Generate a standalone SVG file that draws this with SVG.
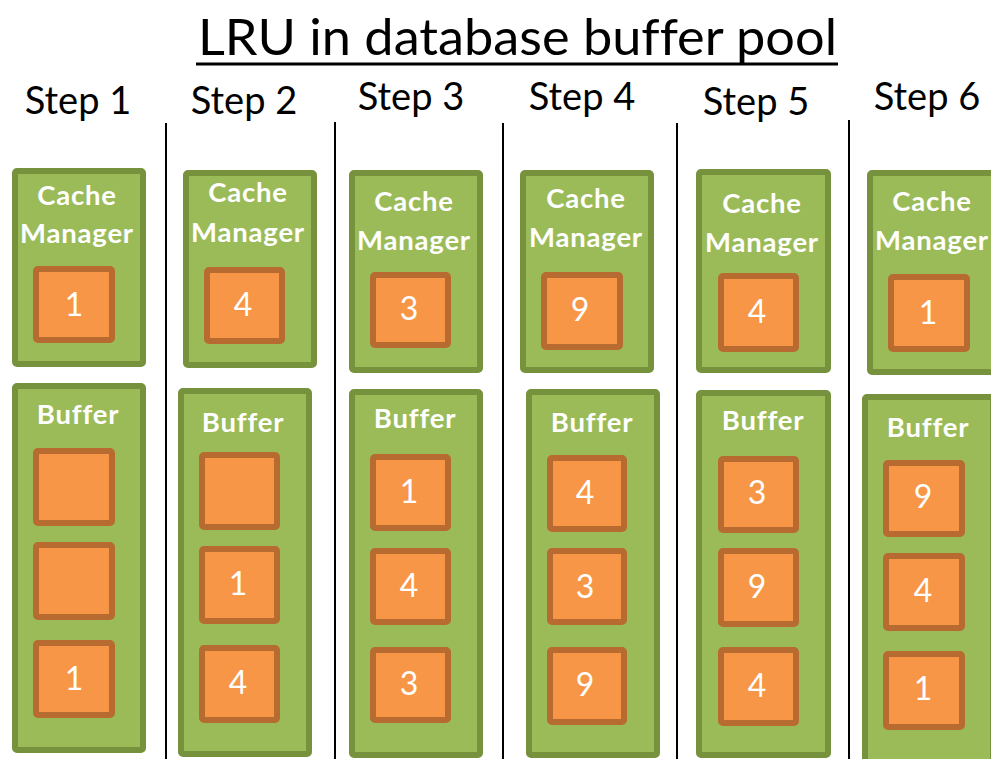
<svg xmlns="http://www.w3.org/2000/svg" width="991" height="759" viewBox="0 0 991 759">
<style>
text{font-variant-ligatures:none;font-feature-settings:"liga" 0}
.g{fill:#9BBB59;stroke:#76923C;stroke-width:6}
.o{fill:#F79646;stroke:#B86B30;stroke-width:6}
.lbl{font-family:Lato,"Liberation Sans",sans-serif;font-weight:bold;font-size:27.5px;letter-spacing:0.8px;fill:#fff;text-anchor:middle}
.num{font-family:Lato,"Liberation Sans",sans-serif;font-size:32px;fill:#fff;text-anchor:middle}
.step{font-family:Lato,"Liberation Sans",sans-serif;font-size:38px;fill:#000;text-anchor:middle}
.div{stroke:#000;stroke-width:2}
</style>
<rect width="991" height="759" fill="#fff"/>
<text x="198" y="55" textLength="639" lengthAdjust="spacingAndGlyphs" font-family="Lato,'Liberation Sans',sans-serif" font-size="50" fill="#000">LRU in database buffer pool</text>
<line x1="196" y1="64" x2="838" y2="64" stroke="#000" stroke-width="3"/>
<g id="dividers">
<line class="div" x1="166" y1="123" x2="166" y2="759"/>
<line class="div" x1="335" y1="122" x2="335" y2="759"/>
<line class="div" x1="503" y1="123" x2="503" y2="759"/>
<line class="div" x1="677" y1="123" x2="677" y2="759"/>
<line class="div" x1="849" y1="120" x2="849" y2="759"/>
</g>
<text class="step" x="78" y="114">Step 1</text>
<text class="step" x="244" y="114">Step 2</text>
<text class="step" x="411" y="110">Step 3</text>
<text class="step" x="582" y="110">Step 4</text>
<text class="step" x="756" y="115">Step 5</text>
<text class="step" x="927" y="110">Step 6</text>

<g id="step1">
<g id="cm1"><rect class="g" x="15" y="171" width="128" height="193" rx="2"/>
<text class="lbl" x="77" y="205">Cache</text><text class="lbl" x="77" y="243">Manager</text>
<rect class="o" x="36" y="269" width="76" height="71" rx="2"/><text class="num" x="74" y="316">1</text></g>
<g id="buf1"><rect class="g" x="15" y="386" width="128" height="364" rx="2"/>
<text class="lbl" x="78" y="424">Buffer</text>
<rect class="o" x="36" y="451" width="76" height="72" rx="2"/>
<rect class="o" x="36" y="545" width="76" height="72" rx="2"/>
<rect class="o" x="36" y="643" width="76" height="72" rx="2"/><text class="num" x="74" y="690">1</text></g>
</g>

<g id="step2">
<g id="cm2"><rect class="g" x="186" y="173" width="128" height="192" rx="2"/>
<text class="lbl" x="248" y="202">Cache</text><text class="lbl" x="248" y="242">Manager</text>
<rect class="o" x="207" y="270" width="75" height="71" rx="2"/><text class="num" x="243" y="316">4</text></g>
<g id="buf2"><rect class="g" x="181" y="391" width="128" height="363" rx="2"/>
<text class="lbl" x="243" y="432">Buffer</text>
<rect class="o" x="202" y="455" width="75" height="72" rx="2"/>
<rect class="o" x="202" y="549" width="75" height="72" rx="2"/><text class="num" x="238" y="595">1</text>
<rect class="o" x="202" y="648" width="75" height="72" rx="2"/><text class="num" x="238" y="694">4</text></g>
</g>

<g id="step3">
<g id="cm3"><rect class="g" x="352" y="173" width="128" height="197" rx="2"/>
<text class="lbl" x="414" y="211">Cache</text><text class="lbl" x="414" y="250">Manager</text>
<rect class="o" x="373" y="275" width="75" height="70" rx="2"/><text class="num" x="409" y="320">3</text></g>
<g id="buf3"><rect class="g" x="352" y="392" width="128" height="363" rx="2"/>
<text class="lbl" x="415" y="428">Buffer</text>
<rect class="o" x="373" y="457" width="75" height="71" rx="2"/><text class="num" x="409" y="503">1</text>
<rect class="o" x="373" y="551" width="75" height="71" rx="2"/><text class="num" x="409" y="597">4</text>
<rect class="o" x="373" y="650" width="75" height="70" rx="2"/><text class="num" x="409" y="695">3</text></g>
</g>

<g id="step4">
<g id="cm4"><rect class="g" x="523" y="173" width="128" height="197" rx="2"/>
<text class="lbl" x="586" y="208">Cache</text><text class="lbl" x="586" y="247">Manager</text>
<rect class="o" x="544" y="275" width="76" height="72" rx="2"/><text class="num" x="580" y="321">9</text></g>
<g id="buf4"><rect class="g" x="529" y="392" width="128" height="363" rx="2"/>
<text class="lbl" x="592" y="432">Buffer</text>
<rect class="o" x="550" y="458" width="74" height="71" rx="2"/><text class="num" x="585" y="504">4</text>
<rect class="o" x="550" y="551" width="74" height="71" rx="2"/><text class="num" x="585" y="598">3</text>
<rect class="o" x="550" y="650" width="74" height="72" rx="2"/><text class="num" x="585" y="696">9</text></g>
</g>

<g id="step5">
<g id="cm5"><rect class="g" x="699" y="172" width="129" height="198" rx="2"/>
<text class="lbl" x="762" y="213">Cache</text><text class="lbl" x="762" y="252">Manager</text>
<rect class="o" x="721" y="276" width="75" height="73" rx="2"/><text class="num" x="757" y="323">4</text></g>
<g id="buf5"><rect class="g" x="699" y="393" width="129" height="362" rx="2"/>
<text class="lbl" x="763" y="430">Buffer</text>
<rect class="o" x="721" y="459" width="75" height="71" rx="2"/><text class="num" x="757" y="504">3</text>
<rect class="o" x="721" y="551" width="75" height="73" rx="2"/><text class="num" x="757" y="598">9</text>
<rect class="o" x="721" y="650" width="75" height="73" rx="2"/><text class="num" x="757" y="697">4</text></g>
</g>

<g id="step6">
<g id="cm6"><rect class="g" x="870" y="173" width="128" height="199" rx="2"/>
<text class="lbl" x="932" y="211">Cache</text><text class="lbl" x="932" y="250">Manager</text>
<rect class="o" x="891" y="277" width="76" height="72" rx="2"/><text class="num" x="928" y="324">1</text></g>
<g id="buf6"><rect class="g" x="865" y="397" width="128" height="370" rx="2"/>
<text class="lbl" x="928" y="437">Buffer</text>
<rect class="o" x="886" y="463" width="76" height="71" rx="2"/><text class="num" x="923" y="508">9</text>
<rect class="o" x="886" y="556" width="76" height="72" rx="2"/><text class="num" x="923" y="602">4</text>
<rect class="o" x="886" y="654" width="76" height="73" rx="2"/><text class="num" x="923" y="700">1</text></g>
</g>
</svg>
